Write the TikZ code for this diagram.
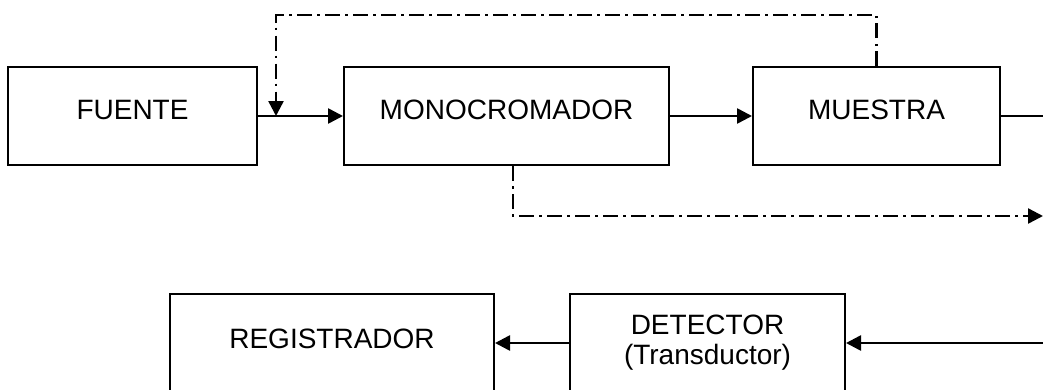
\documentclass[tikz,border=0pt]{standalone}
\usepackage{fontspec}
\setmainfont{Liberation Sans}
\usetikzlibrary{arrows.meta,positioning,calc}
\tikzset{blockbox/.style={draw=black,line width=2pt,minimum height=98pt,
    align=center,font=\fontsize{28}{30}\selectfont,inner sep=0pt},
  edge/.style={-{Triangle[length=15pt,width=15pt]},line width=2.6pt},
  dotedge/.style={edge,line width=2.4pt,dash pattern=on 15pt off 5pt on 2.5pt off 5.5pt}}

\begin{document}
\begin{tikzpicture}[x=1pt,y=-1pt]
    \useasboundingbox (0,0) rectangle (1043,389);
    \clip (0,0) rectangle (1043,389);
    \node[blockbox,minimum width=249pt,text depth=12pt] (fuente) at (132.5,116) {FUENTE};
    \node[blockbox,minimum width=325pt,text depth=12pt] (mono) at (506.5,116) {MONOCROMADOR};
    \node[blockbox,minimum width=247pt,text depth=12pt] (muestra) at (876.5,116) {MUESTRA};
    \node[blockbox,minimum width=324pt,text depth=8pt] (registrador) at (332,343) {REGISTRADOR};
    \node[blockbox,minimum width=275pt] (detector) at (707.5,343) {DETECTOR\\(Transductor)};
    \coordinate (tap) at (276,116);
    \coordinate (loop) at (276,15);
    \coordinate (outA) at (1043,116);
    \coordinate (outB) at (1043,216);
    \coordinate (inD) at (1043,343);
    \draw[edge] (fuente.east)--(mono.west);
    \draw[edge] (mono.east)--(muestra.west);
    \draw[line width=2.6pt] (muestra.east)--(outA);
    \draw[dotedge] (muestra.north) |- (loop) -- (tap);
    \draw[dotedge] ([xshift=6.5pt]mono.south) |- (outB);
    \draw[edge] (inD)--(detector.east);
    \draw[edge] (detector.west)--(registrador.east);
  \end{tikzpicture}
\end{document}
